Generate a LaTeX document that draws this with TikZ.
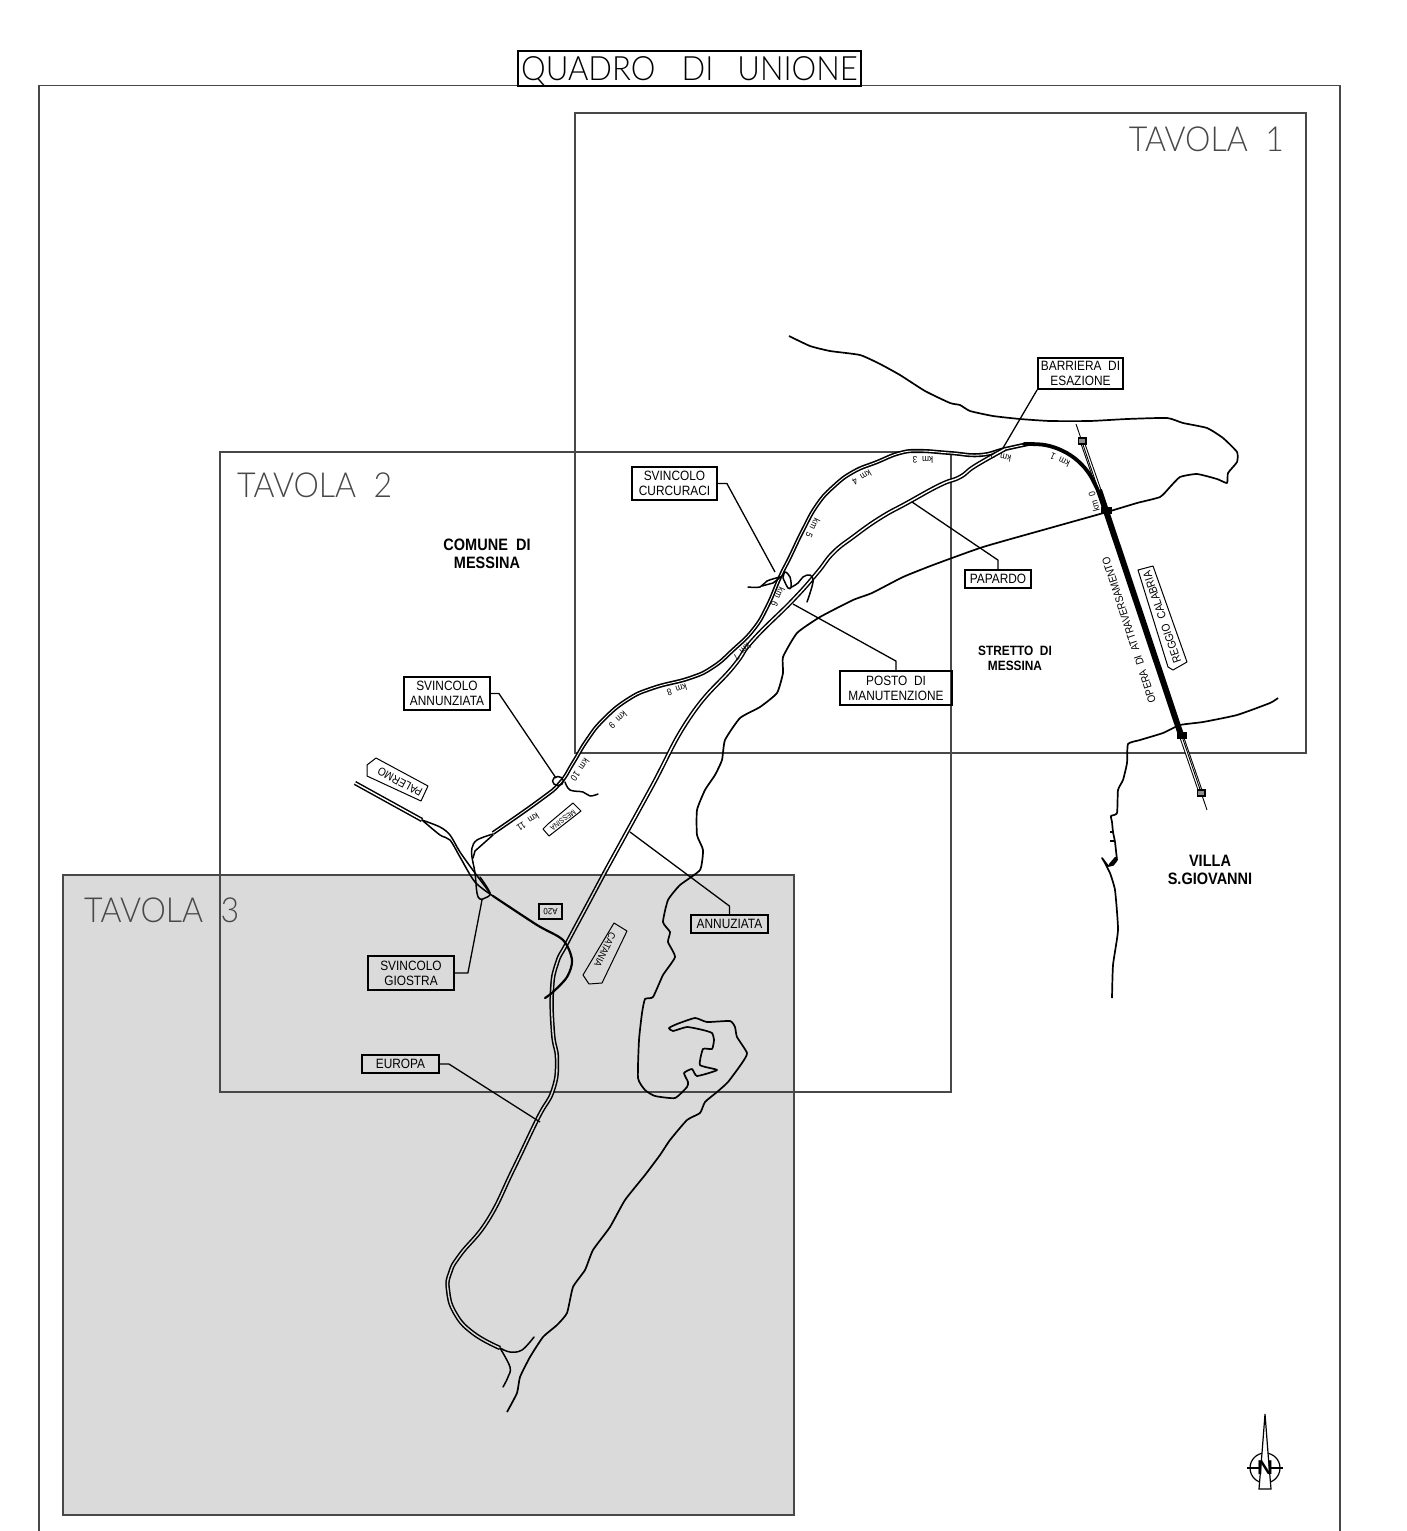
\documentclass[tikz,border=0pt]{standalone}
\usepackage{fontspec}
\setmainfont[FakeStretch=0.88]{Liberation Sans}
\newfontfamily\thinfont[FakeStretch=0.93]{Lato Light}
\definecolor{tavolagrey}{HTML}{DADADA}
\definecolor{framegrey}{HTML}{484848}
\tikzset{
  frameline/.style={line width=1.1, draw=framegrey},
  coast/.style={line width=1.7, line join=round},
  roadpair/.style={line width=1.6, double=white, double distance=0.9, line join=round},
  roadwide/.style={line width=1.5, double=white, double distance=1.4, line join=round},
  roadgrey/.style={roadwide, double=tavolagrey},
  ramp/.style={line width=1.5, line join=round, line cap=round},
  leader/.style={line width=1.3, line join=round},
  tagbox/.style={draw, line width=1.8, align=center, inner sep=0, font=\fontsize{13.5}{15}\selectfont},
  arrowtag/.style={line width=1, line join=round},
  tagtext/.style={inner sep=0, font=\fontsize{11.5}{13}\selectfont},
  kmlabel/.style={inner sep=0, font=\fontsize{9.5}{10}\selectfont},
  placetext/.style={align=center, inner sep=0, font=\fontsize{16.5}{18.5}\selectfont\bfseries},
  tavolatext/.style={inner sep=0, font=\fontsize{34.5}{36}\selectfont\thinfont, text=framegrey},
}
\begin{document}
\begin{tikzpicture}[x=1pt,y=-1pt]
  \useasboundingbox (0,0) rectangle (1407,1531);

  % Drawing sheet frames
  \fill [tavolagrey] (63,875) rectangle (794,1515);%
  \draw [frameline] (63,875) rectangle (794,1515);%
  \draw [frameline] (575,113) rectangle (1306,753);%
  \draw [frameline] (220,452) rectangle (951,1092);%
  \draw [frameline] (39,1531) -- (39,85.5) -- (1340,85.5) -- (1340,1531);%

  % Marking title and sheets
  \node [draw, line width=1.2, minimum width=343, minimum height=35, inner sep=0, text height=24.5pt, text depth=0pt, font=\fontsize{33.5}{35}\selectfont\thinfont] (title) at (689.5,68.5) {QUADRO\hspace{26pt}DI\hspace{24pt}UNIONE};%
  \node [tavolatext, anchor=east] (tavolaone) at (1284,139) {TAVOLA\ \ 1};%
  \node [tavolatext, anchor=west] (tavolatwo) at (237,485) {TAVOLA\ \ 2};%
  \node [tavolatext, anchor=west] (tavolathree) at (84,910) {TAVOLA\ \ 3};%

  % Drawing coast of Sicily
  \draw [coast] plot [smooth, tension=0.3] coordinates {(789,336) (810,346) (830,351) (860,355) (880,364) (900,375) (925,391) (950,403) (960,405) (970,411) (993,416) (1020,419) (1050,421) (1090,421) (1127,419) (1167,418) (1183,423) (1207,428) (1223,438) (1237,452) (1237,462) (1228,473) (1227,483) (1217,479) (1197,474) (1180,477) (1170,487) (1160,497) (1137,503) (1107,512) (1050,528) (983,547) (933,565) (903,577) (872,593) (853,600) (820,617) (797,633) (783,657) (783,673) (777,693) (760,707) (740,718) (725,740) (722,760) (715,775) (705,790) (697,810) (697,835) (703,850) (700,870) (680,885) (668,900) (663,922) (670,932) (668,942) (675,957) (663,975) (653,997) (645,999) (642,1013) (639,1040) (638,1078) (645,1090) (655,1096) (675,1098) (687,1087) (688,1082) (684,1073) (692,1069) (697,1076) (717,1070) (700,1065) (703,1049) (712,1049) (714,1040) (712,1033) (703,1030) (687,1027) (673,1031) (669,1028) (677,1024) (695,1018) (707,1022) (730,1021) (735,1027) (737,1037) (747,1053) (742,1063) (728,1082) (717,1092) (705,1102) (700,1113) (687,1120) (670,1140) (660,1155) (645,1175) (625,1200) (610,1227) (593,1250) (585,1270) (573,1287) (567,1313) (557,1325) (543,1337) (530,1357) (520,1377) (517,1393) (507,1412)};%

  % Drawing coast of Calabria
  \draw [coast] plot [smooth, tension=0.3] coordinates {(1278,698) (1270,703) (1237,715) (1203,722) (1180,725) (1163,733) (1140,740) (1128,744) (1127,763) (1123,780) (1118,790) (1117,813) (1111,816) (1112,822) (1113,832) (1115,842) (1117,860)};%
  \draw [line width=3, line cap=round] (1116,858) -- (1110,865);%
  \draw [line width=1.7, line join=round] (1117,860) -- (1113,865) -- (1108,866) -- (1102,858) -- (1105,863) -- (1110,873);%
  \draw [line width=1.7] (1113,832) -- (1110,832);%
  \draw [line width=1.7] (1115,841) -- (1110,841);%
  \draw [coast] plot [smooth, tension=0.3] coordinates {(1110,873) (1115,890) (1118,930) (1113,965) (1112,998)};%

  % Drawing bridge
  \coordinate (bridgeN) at (1076,424);%
  \coordinate (bridgeS) at (1207,810);%
  \draw [line width=1, double=white, double distance=2.6] (1082,441) -- (1106,510);%
  \draw [line width=1, double=white, double distance=2.6] (1181,735) -- (1201,793);%
  \draw [line width=0.9] (bridgeN) -- (bridgeS);%
  \draw [line width=6] (1099,490) -- (1181,735);%
  \draw [fill=black] (1101.5,507) rectangle (1111,513.5);%
  \draw [fill=black] (1177,732) rectangle (1186,738);%
  \draw [line width=1.4, fill=black!45] (1078.5,438) rectangle (1086,444);%
  \draw [line width=1.4, fill=black!45] (1197.5,790) rectangle (1205,796);%

  % Drawing carriageway north
  \draw [roadpair] plot [smooth, tension=0.8] coordinates {(1028,444) (1005,449) (980,455) (950,453) (920,451) (900,453) (877,462) (853,472) (833,487) (817,505) (803,530) (790,557) (780,577) (767,607) (753,630) (733,650) (713,667) (690,678) (653,688) (627,700) (603,720) (587,740) (573,763) (560,783) (540,800) (493,833)};%
  \draw [line width=3.8, line cap=round] plot [smooth, tension=0.6] coordinates {(1024,444) (1045,445) (1063,451) (1078,461) (1090,475) (1100,495)};%

  % Drawing carriageway south
  \draw [roadwide] plot [smooth, tension=0.8] coordinates {(1005,449) (975,466) (960,477) (940,485) (907,503) (880,518) (853,537) (833,553) (817,573) (793,600) (753,640) (733,667) (690,717) (650,790) (606,870)};%
  \draw [roadgrey] plot [smooth, tension=0.8] coordinates {(606,870) (590,900) (567,943) (557,963) (552,990) (553,1033) (557,1060) (553,1090) (538,1118) (513,1170) (488,1220) (460,1255) (450,1273) (448,1290) (455,1313) (473,1333) (500,1348)};%

  % Drawing carriageway Palermo
  \draw [roadwide] (355,783) -- (422,820);%
  \draw [ramp] plot [smooth, tension=0.5] coordinates {(422,820) (440,827) (450,835) (460,852) (475,873) (490,893)};%
  \draw [ramp] plot [smooth, tension=0.5] coordinates {(422,820) (440,835) (450,840) (460,857) (475,882) (493,896)};%
  \draw [ramp, line width=2.2] plot [smooth, tension=0.5] coordinates {(493,896) (537,925) (563,940) (572,960) (567,977) (553,992) (545,998)};%

  % Drawing junction Giostra
  \draw [ramp] plot [smooth, tension=0.6] coordinates {(493,834) (477,840) (472,848) (472,857) (475,873) (477,893) (480,899) (485,898) (490,893) (480,877)};%
  \draw [ramp] (493,835) -- (475,851) -- (473,858);%

  % Drawing junction Annunziata
  \draw [ramp] (558,781) ellipse (5.5 and 4.5);%
  \draw [ramp] plot [smooth, tension=0.6] coordinates {(565,782) (570,790) (583,792) (590,796) (598,794)};%

  % Drawing junction Curcuraci
  \draw [ramp] plot [smooth, tension=0.6] coordinates {(748,587) (760,587) (767,581) (780,577)};%
  \draw [ramp] (762,586) -- (773,583) -- (782,576);%
  \draw [ramp] plot [smooth, tension=0.6] coordinates {(783,578) (785,572) (790,577) (791,587) (788,588) (783,578)};%
  \draw [ramp] plot [smooth, tension=0.6] coordinates {(790,588) (798,583) (803,577) (810,575) (813,582) (807,602)};%

  % Drawing last ramps
  \draw [ramp] plot [smooth, tension=0.6] coordinates {(500,1348) (510,1352) (522,1350) (534,1337)};%
  \draw [ramp] plot [smooth, tension=0.6] coordinates {(500,1348) (510,1367) (508,1377) (503,1387)};%

  % Marking boxed labels
  \node [tagbox, minimum width=85, minimum height=31] (barriera) at (1080.5,373.5) {BARRIERA\ \ DI\\ESAZIONE};%
  \node [tagbox, minimum width=66, minimum height=18] (papardo) at (998,579) {PAPARDO};%
  \node [tagbox, minimum width=85, minimum height=33] (curcuraci) at (674.5,483.5) {SVINCOLO\\CURCURACI};%
  \node [tagbox, minimum width=112, minimum height=34] (posto) at (896,688) {POSTO\ \ DI\\MANUTENZIONE};%
  \node [tagbox, minimum width=86, minimum height=33] (annunziata) at (447,693.5) {SVINCOLO\\ANNUNZIATA};%
  \node [tagbox, minimum width=86, minimum height=34] (giostra) at (411,973) {SVINCOLO\\GIOSTRA};%
  \node [tagbox, minimum width=77, minimum height=18] (annuziata) at (729.5,924) {ANNUZIATA};%
  \node [tagbox, minimum width=77, minimum height=18] (europa) at (400.5,1064) {EUROPA};%

  % Drawing leaders
  \coordinate (barrieraEnd) at (1003,448);%
  \coordinate (papardoEnd) at (912,502);%
  \coordinate (curcuraciEnd) at (775,572);%
  \coordinate (postoEnd) at (793,604);%
  \coordinate (annunziataEnd) at (556,778);%
  \coordinate (giostraEnd) at (482,900);%
  \coordinate (annuziataEnd) at (630,832);%
  \coordinate (europaEnd) at (540,1122);%
  \draw [leader] (barriera.south west) -- (barrieraEnd);%
  \draw [leader] (papardo.north) -- ++(0,-9) -- (papardoEnd);%
  \draw [leader] (curcuraci.east) -- ++(9,0) -- (curcuraciEnd);%
  \draw [leader] (posto.north) -- ++(0,-9) -- (postoEnd);%
  \draw [leader] (annunziata.east) -- ++(8,0) -- (annunziataEnd);%
  \draw [leader] (giostra.east) -- ++(13,0) -- (giostraEnd);%
  \draw [leader] (annuziata.north) -- ++(0,-8) -- (annuziataEnd);%
  \draw [leader] (europa.east) -- ++(9,0) -- (europaEnd);%

  % Marking place names
  \node [placetext] (comune) at (487,554) {COMUNE\ \ DI\\MESSINA};%
  \node [placetext, font=\fontsize{13.5}{15.5}\selectfont\bfseries] (stretto) at (1015,658.5) {STRETTO\ \ DI\\MESSINA};%
  \node [placetext] (villa) at (1210,870) {VILLA\\S.GIOVANNI};%
  \node [tagtext, rotate=108, font=\fontsize{11}{13}\selectfont] (opera) at (1129,630) {OPERA\ \ DI\ \ ATTRAVERSAMENTO};%

  % Drawing direction tags
  \draw [arrowtag] (367,765) -- (376,758) -- (428,786) -- (421,801) -- (367,776) -- cycle;%
  \node [tagtext, rotate=152] (palermo) at (400,782) {PALERMO};%
  \draw [arrowtag] (543,829) -- (548,824) -- (573,803) -- (581,811) -- (549,836) -- cycle;%
  \node [tagtext, rotate=-143, font=\fontsize{7.5}{9}\selectfont] (messina) at (563,820) {MESSINA};%
  \draw [arrowtag] (614,923) -- (627,931) -- (602,983) -- (589,984) -- (583,975) -- cycle;%
  \node [tagtext, rotate=-116, font=\fontsize{10}{12}\selectfont] (catania) at (605,950) {CATANIA};%
  \draw [arrowtag] (1138,570) -- (1153,566) -- (1187,662) -- (1173,670) -- (1168,667) -- cycle;%
  \node [tagtext, rotate=109] (reggio) at (1162,617) {REGGIO\ \ CALABRIA};%
  \node [draw, line width=1.1, minimum width=23, minimum height=15, inner sep=0, rotate=180, font=\fontsize{9}{10}\selectfont] (autostrada) at (550.5,911.5) {A20};%

  % Marking kilometres
  \node [kmlabel, rotate=105] (kmzero) at (1094,502) {km\ \ 0};%
  \node [kmlabel, rotate=155] (kmone) at (1060,460) {km\ \ 1};%
  \node [kmlabel, rotate=170] (kmtwo) at (1001,457) {km\ \ 2};%
  \node [kmlabel, rotate=180] (kmthree) at (923,460) {km\ \ 3};%
  \node [kmlabel, rotate=211] (kmfour) at (862,478) {km\ \ 4};%
  \node [kmlabel, rotate=243] (kmfive) at (813,528) {km\ \ 5};%
  \node [kmlabel, rotate=245] (kmsix) at (778,597) {km\ \ 6};%
  \node [kmlabel, rotate=225] (kmseven) at (742,652) {km\ \ 7};%
  \node [kmlabel, rotate=198] (kmeight) at (677,690) {km\ \ 8};%
  \node [kmlabel, rotate=221] (kmnine) at (618,720) {km\ \ 9};%
  \node [kmlabel, rotate=235] (kmten) at (580,770) {km\ \ 10};%
  \node [kmlabel, rotate=213] (kmeleven) at (528,822) {km\ \ 11};%

  % Drawing north arrow
  \draw [line width=1.2] (1265,1468) circle (15);%
  \draw [line width=1.1] (1247,1468) -- (1283,1468);%
  \draw [line width=1.2, fill=white] (1265,1414) -- (1268,1453) -- (1271,1489) -- (1259,1489) -- (1262,1453) -- cycle;%
  \node [inner sep=0, font=\fontsize{20}{22}\selectfont\bfseries] (north) at (1265,1468) {\scalebox{1.25}[1]{N}};%
\end{tikzpicture}
\end{document}
